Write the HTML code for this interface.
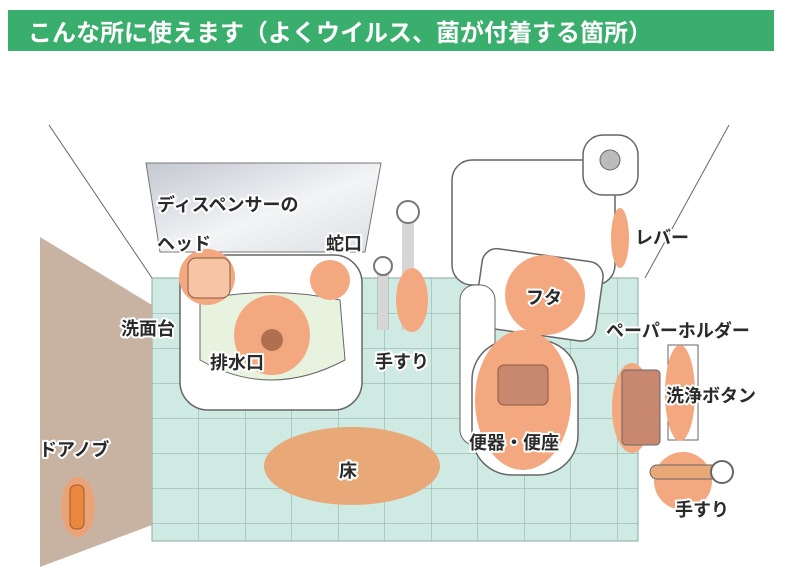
<!DOCTYPE html>
<html><head><meta charset="utf-8"><style>
html,body{margin:0;padding:0;background:#fff;width:800px;height:586px;overflow:hidden}
text{font-family:"Liberation Sans","Noto Sans CJK JP",sans-serif;font-weight:bold}
.l{font-size:18px;fill:#2a2a2a;stroke:#fff;stroke-width:4px;paint-order:stroke;stroke-linejoin:round}
</style></head><body>
<svg width="800" height="586" viewBox="0 0 800 586" xmlns="http://www.w3.org/2000/svg">
<defs>
<pattern id="tile" x="152" y="278" width="46.5" height="35" patternUnits="userSpaceOnUse">
<rect width="46.5" height="35" fill="#cfeae2"/>
<path d="M0 0H46.5M0 0V35" stroke="#8aa9a0" stroke-width="1" fill="none"/>
</pattern>
<linearGradient id="mir" x1="0" y1="0" x2="1" y2="1"><stop offset="0" stop-color="#c4c8d0"/><stop offset="0.55" stop-color="#f2f4f6"/><stop offset="1" stop-color="#dcdfe4"/></linearGradient>
</defs>
<rect x="8" y="10" width="766" height="41" fill="#3aae6c"/>
<text x="28" y="41" font-size="24" fill="#fff">こんな所に使えます（よくウイルス、菌が付着する箇所）</text>
<path d="M49 125 L152 278 M729 125 L645 278" stroke="#666" stroke-width="1" fill="none"/>
<rect x="152" y="278" width="486" height="263" fill="url(#tile)" stroke="#8aa9a0"/>
<polygon points="40,237 152,305 152,525 40,567" fill="#c8b3a3"/>
<ellipse cx="78" cy="507" rx="17" ry="30" fill="#f0a070" opacity="0.85"/>
<rect x="70" y="485" width="14" height="44" rx="6" fill="#e9883e" stroke="#a05a2a"/>
<polygon points="146,163 381,163 365,252 160,252" fill="url(#mir)" stroke="#777"/>
<rect x="180" y="255" width="182" height="155" rx="28" fill="#fff" stroke="#666" stroke-width="1.5"/>
<path d="M200 300 Q270 285 340 300 L345 360 Q270 400 200 360 Z" fill="#e8f3df" stroke="#666"/>
<ellipse cx="272" cy="335" rx="38" ry="40" fill="#f4a880"/>
<circle cx="272" cy="340" r="11" fill="#b07050"/>
<circle cx="207" cy="277" r="28" fill="#f4a880"/>
<rect x="188" y="258" width="42" height="40" rx="8" fill="#f7c4a4" stroke="#8a5a40"/>
<circle cx="330" cy="280" r="20" fill="#f4a880"/>
<path d="M408 330 V215 M383 330 V270" stroke="#fff" stroke-width="10" fill="none"/>
<path d="M408 330 V215 M383 330 V270" stroke="#777" stroke-width="12" fill="none" opacity="0.3"/>
<circle cx="408" cy="212" r="11" fill="#fff" stroke="#777" stroke-width="2"/>
<circle cx="383" cy="266" r="9" fill="#fff" stroke="#777" stroke-width="2"/>
<ellipse cx="412" cy="300" rx="16" ry="32" fill="#f4a880"/>
<rect x="452" y="160" width="163" height="125" rx="20" fill="#fff" stroke="#666" stroke-width="1.5"/>
<rect x="583" y="135" width="55" height="60" rx="20" fill="#fff" stroke="#666" stroke-width="1.5"/>
<circle cx="610" cy="160" r="10" fill="#bbb" stroke="#666"/>
<ellipse cx="620" cy="238" rx="9" ry="30" fill="#f4a880"/>
<rect x="478" y="255" width="122" height="80" rx="15" fill="#fff" stroke="#666" stroke-width="1.5" transform="rotate(8 540 295)"/>
<circle cx="545" cy="295" r="40" fill="#f4a880"/>
<rect x="460" y="285" width="35" height="160" rx="15" fill="#fff" stroke="#666"/>
<rect x="472" y="340" width="106" height="135" rx="40" fill="#fff" stroke="#666" stroke-width="1.5"/>
<ellipse cx="523" cy="400" rx="48" ry="70" fill="#f4a880"/>
<rect x="498" y="365" width="50" height="40" rx="6" fill="#c88870" stroke="#8a5a40"/>
<ellipse cx="352" cy="466" rx="88" ry="39" fill="#e8a878"/>
<ellipse cx="632" cy="408" rx="20" ry="45" fill="#f4a880"/>
<rect x="622" y="370" width="38" height="75" rx="4" fill="#c88870" stroke="#666"/>
<rect x="668" y="345" width="30" height="95" fill="#fff" stroke="#666"/>
<ellipse cx="680" cy="393" rx="15" ry="48" fill="#f4a880"/>
<circle cx="683" cy="481" r="29" fill="#f4a880"/>
<rect x="650" y="465" width="70" height="14" rx="7" fill="#e8a878" stroke="#666"/>
<circle cx="722" cy="472" r="11" fill="#fff" stroke="#666" stroke-width="2"/>
<text class="l" x="157" y="211">ディスペンサーの</text>
<text class="l" x="157" y="250">ヘッド</text>
<text class="l" x="326" y="250">蛇口</text>
<text class="l" x="121" y="335">洗面台</text>
<text class="l" x="210" y="369">排水口</text>
<text class="l" x="375" y="368">手すり</text>
<text class="l" x="526" y="304">フタ</text>
<text class="l" x="635" y="244">レバー</text>
<text class="l" x="606" y="337">ペーパーホルダー</text>
<text class="l" x="666" y="402">洗浄ボタン</text>
<text class="l" x="469" y="449">便器・便座</text>
<text class="l" x="339" y="477">床</text>
<text class="l" x="39" y="456">ドアノブ</text>
<text class="l" x="675" y="516">手すり</text>
</svg>
</body></html>
